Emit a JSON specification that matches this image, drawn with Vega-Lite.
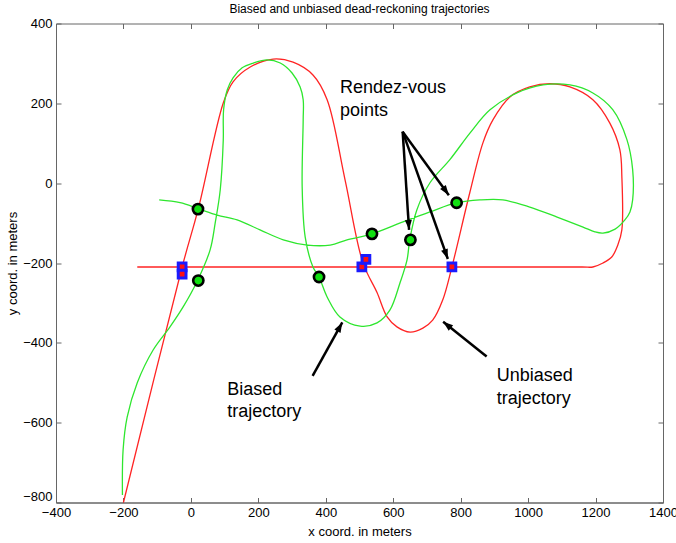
{
  "$schema": "https://vega.github.io/schema/vega-lite/v6.json",
  "width": 607,
  "height": 479,
  "autosize": "none",
  "padding": {"left": 56, "top": 23.5, "right": 13, "bottom": 40.5},
  "background": "white",
  "config": {
    "view": {"stroke": "#666666", "strokeWidth": 1},
    "font": "Liberation Sans",
    "axis": {"grid": false, "domainColor": "#666666", "tickColor": "#666666", "labelFont": "Liberation Sans", "labelColor": "black", "labelFontSize": 13, "titleFont": "Liberation Sans", "titleFontWeight": "normal", "titleFontSize": 13, "titleColor": "black", "labelFlush": false, "labelOverlap": false, "labelBound": false}
  },
  "title": {"text": "Biased and unbiased dead-reckoning trajectories", "fontSize": 12, "fontWeight": "normal", "font": "Liberation Sans", "offset": 2, "color": "black"},
  "datasets": {
    "traj": [
      {"series": "unbiased", "i": 1, "x": -200, "y": -800},
      {"series": "unbiased", "i": 2, "x": -26, "y": -210},
      {"series": "unbiased", "i": 3, "x": 22, "y": -64},
      {"series": "unbiased", "i": 4, "x": 96, "y": 201},
      {"series": "unbiased", "i": 5, "x": 125, "y": 254},
      {"series": "unbiased", "i": 6, "x": 176, "y": 291},
      {"series": "unbiased", "i": 7, "x": 244, "y": 311},
      {"series": "unbiased", "i": 8, "x": 303, "y": 303},
      {"series": "unbiased", "i": 9, "x": 362, "y": 271},
      {"series": "unbiased", "i": 10, "x": 404, "y": 209},
      {"series": "unbiased", "i": 11, "x": 457, "y": 9},
      {"series": "unbiased", "i": 12, "x": 510, "y": -199},
      {"series": "unbiased", "i": 13, "x": 552, "y": -274},
      {"series": "unbiased", "i": 14, "x": 582, "y": -335},
      {"series": "unbiased", "i": 15, "x": 611, "y": -360},
      {"series": "unbiased", "i": 16, "x": 650, "y": -373},
      {"series": "unbiased", "i": 17, "x": 688, "y": -363},
      {"series": "unbiased", "i": 18, "x": 717, "y": -343},
      {"series": "unbiased", "i": 19, "x": 747, "y": -292},
      {"series": "unbiased", "i": 20, "x": 774, "y": -210},
      {"series": "unbiased", "i": 21, "x": 827, "y": -24},
      {"series": "unbiased", "i": 22, "x": 866, "y": 101},
      {"series": "unbiased", "i": 23, "x": 896, "y": 159},
      {"series": "unbiased", "i": 24, "x": 946, "y": 216},
      {"series": "unbiased", "i": 25, "x": 1005, "y": 241},
      {"series": "unbiased", "i": 26, "x": 1065, "y": 249},
      {"series": "unbiased", "i": 27, "x": 1124, "y": 241},
      {"series": "unbiased", "i": 28, "x": 1192, "y": 209},
      {"series": "unbiased", "i": 29, "x": 1242, "y": 151},
      {"series": "unbiased", "i": 30, "x": 1272, "y": 84},
      {"series": "unbiased", "i": 31, "x": 1278, "y": 16},
      {"series": "unbiased", "i": 32, "x": 1278, "y": -117},
      {"series": "unbiased", "i": 33, "x": 1266, "y": -155},
      {"series": "unbiased", "i": 34, "x": 1248, "y": -185},
      {"series": "unbiased", "i": 35, "x": 1222, "y": -200},
      {"series": "unbiased", "i": 36, "x": 1192, "y": -210},
      {"series": "unbiased", "i": 37, "x": 1160, "y": -210},
      {"series": "unbiased", "i": 38, "x": -130, "y": -210},
      {"series": "unbiased", "i": 39, "x": -159, "y": -210},
      {"series": "biased", "i": 1, "x": -203, "y": -781},
      {"series": "biased", "i": 2, "x": -201, "y": -668},
      {"series": "biased", "i": 3, "x": -189, "y": -586},
      {"series": "biased", "i": 4, "x": -159, "y": -500},
      {"series": "biased", "i": 5, "x": -112, "y": -418},
      {"series": "biased", "i": 6, "x": -62, "y": -360},
      {"series": "biased", "i": 7, "x": -23, "y": -310},
      {"series": "biased", "i": 8, "x": 19, "y": -245},
      {"series": "biased", "i": 9, "x": 57, "y": -167},
      {"series": "biased", "i": 10, "x": 72, "y": -100},
      {"series": "biased", "i": 11, "x": 87, "y": -17},
      {"series": "biased", "i": 12, "x": 96, "y": 108},
      {"series": "biased", "i": 13, "x": 97, "y": 184},
      {"series": "biased", "i": 14, "x": 108, "y": 234},
      {"series": "biased", "i": 15, "x": 125, "y": 264},
      {"series": "biased", "i": 16, "x": 152, "y": 289},
      {"series": "biased", "i": 17, "x": 185, "y": 301},
      {"series": "biased", "i": 18, "x": 226, "y": 309},
      {"series": "biased", "i": 19, "x": 265, "y": 301},
      {"series": "biased", "i": 20, "x": 300, "y": 276},
      {"series": "biased", "i": 21, "x": 324, "y": 241},
      {"series": "biased", "i": 22, "x": 333, "y": 209},
      {"series": "biased", "i": 23, "x": 333, "y": 159},
      {"series": "biased", "i": 24, "x": 330, "y": -9},
      {"series": "biased", "i": 25, "x": 339, "y": -135},
      {"series": "biased", "i": 26, "x": 362, "y": -210},
      {"series": "biased", "i": 27, "x": 380, "y": -235},
      {"series": "biased", "i": 28, "x": 404, "y": -285},
      {"series": "biased", "i": 29, "x": 442, "y": -335},
      {"series": "biased", "i": 30, "x": 502, "y": -358},
      {"series": "biased", "i": 31, "x": 552, "y": -350},
      {"series": "biased", "i": 32, "x": 590, "y": -318},
      {"series": "biased", "i": 33, "x": 620, "y": -250},
      {"series": "biased", "i": 34, "x": 641, "y": -192},
      {"series": "biased", "i": 35, "x": 649, "y": -142},
      {"series": "biased", "i": 36, "x": 670, "y": -67},
      {"series": "biased", "i": 37, "x": 709, "y": 1},
      {"series": "biased", "i": 38, "x": 768, "y": 59},
      {"series": "biased", "i": 39, "x": 828, "y": 126},
      {"series": "biased", "i": 40, "x": 887, "y": 184},
      {"series": "biased", "i": 41, "x": 967, "y": 226},
      {"series": "biased", "i": 42, "x": 1044, "y": 246},
      {"series": "biased", "i": 43, "x": 1124, "y": 246},
      {"series": "biased", "i": 44, "x": 1192, "y": 226},
      {"series": "biased", "i": 45, "x": 1251, "y": 184},
      {"series": "biased", "i": 46, "x": 1293, "y": 109},
      {"series": "biased", "i": 47, "x": 1310, "y": 34},
      {"series": "biased", "i": 48, "x": 1310, "y": -42},
      {"series": "biased", "i": 49, "x": 1302, "y": -72},
      {"series": "biased", "i": 50, "x": 1287, "y": -92},
      {"series": "biased", "i": 51, "x": 1258, "y": -115},
      {"series": "biased", "i": 52, "x": 1222, "y": -125},
      {"series": "biased", "i": 53, "x": 1198, "y": -122},
      {"series": "biased", "i": 54, "x": 1163, "y": -110},
      {"series": "biased", "i": 55, "x": 1086, "y": -85},
      {"series": "biased", "i": 56, "x": 1005, "y": -60},
      {"series": "biased", "i": 57, "x": 925, "y": -42},
      {"series": "biased", "i": 58, "x": 857, "y": -42},
      {"series": "biased", "i": 59, "x": 789, "y": -49},
      {"series": "biased", "i": 60, "x": 709, "y": -72},
      {"series": "biased", "i": 61, "x": 629, "y": -97},
      {"series": "biased", "i": 62, "x": 537, "y": -127},
      {"series": "biased", "i": 63, "x": 463, "y": -142},
      {"series": "biased", "i": 64, "x": 413, "y": -155},
      {"series": "biased", "i": 65, "x": 345, "y": -155},
      {"series": "biased", "i": 66, "x": 274, "y": -142},
      {"series": "biased", "i": 67, "x": 205, "y": -117},
      {"series": "biased", "i": 68, "x": 137, "y": -92},
      {"series": "biased", "i": 69, "x": 78, "y": -80},
      {"series": "biased", "i": 70, "x": 22, "y": -64},
      {"series": "biased", "i": 71, "x": -32, "y": -49},
      {"series": "biased", "i": 72, "x": -94, "y": -42}
    ],
    "circles": [
      {"x": 21, "y": -65},
      {"x": 22, "y": -244},
      {"x": 380, "y": -235},
      {"x": 537, "y": -127},
      {"x": 651, "y": -142},
      {"x": 788, "y": -49}
    ],
    "squares": [
      {"x": -26, "y": -210},
      {"x": -26, "y": -228},
      {"x": 507, "y": -210},
      {"x": 519, "y": -191},
      {"x": 774, "y": -210}
    ],
    "arrows": [
      {"id": "r1", "x": 628, "y": 129, "x2": 647, "y2": -117},
      {"id": "r2", "x": 628, "y": 129, "x2": 765, "y2": -30},
      {"id": "r3", "x": 628, "y": 129, "x2": 762, "y2": -190},
      {"id": "b", "x": 361, "y": -483, "x2": 449, "y2": -349},
      {"id": "u", "x": 877, "y": -434, "x2": 748, "y2": -347}
    ],
    "labels": [
      {"x": 442, "y": 239, "text": "Rendez-vous"},
      {"x": 442, "y": 181, "text": "points"},
      {"x": 108, "y": -518, "text": "Biased"},
      {"x": 108, "y": -573, "text": "trajectory"},
      {"x": 907, "y": -483, "text": "Unbiased"},
      {"x": 907, "y": -540, "text": "trajectory"}
    ]
  },
  "layer": [
    {
      "data": {"name": "traj"},
      "mark": {"type": "line", "strokeWidth": 1.3, "interpolate": "catmull-rom"},
      "encoding": {
        "x": {"field": "x", "type": "quantitative", "scale": {"domain": [-400, 1400], "nice": false, "zero": false}, "axis": {"orient": "bottom", "values": [-400, -200, 0, 200, 400, 600, 800, 1000, 1200, 1400], "format": "d", "tickSize": -5, "labelPadding": 9, "title": "x coord. in meters", "titleY": 29, "titleBaseline": "middle"}},
        "y": {"field": "y", "type": "quantitative", "scale": {"domain": [-800, 400], "nice": false, "zero": false}, "axis": {"orient": "left", "values": [-800, -600, -400, -200, 0, 200, 400], "format": "d", "tickSize": -5, "labelPadding": 9, "labelOffset": {"condition": {"test": "datum.value == -800", "value": -6}, "value": 0}, "title": "y coord. in meters", "titleX": -44, "titleBaseline": "middle"}},
        "color": {"field": "series", "type": "nominal", "scale": {"domain": ["unbiased", "biased"], "range": ["#ff2424", "#2ee62e"]}, "legend": null},
        "order": {"field": "i", "type": "quantitative"},
        "detail": {"field": "series"}
      }
    },
    {
      "data": {"name": "circles"},
      "mark": {"type": "point", "opacity": 0},
      "encoding": {
        "x": {"field": "x", "type": "quantitative", "axis": {"orient": "top", "values": [-400, -200, 0, 200, 400, 600, 800, 1000, 1200, 1400], "tickSize": -5, "labels": false, "title": null, "domain": false}},
        "y": {"field": "y", "type": "quantitative", "axis": {"orient": "right", "values": [-800, -600, -400, -200, 0, 200, 400], "tickSize": -5, "labels": false, "title": null, "domain": false}}
      }
    },
    {
      "data": {"name": "squares"},
      "mark": {"type": "point", "shape": "square", "filled": true, "fill": "#ff1010", "stroke": "#1a1aff", "strokeWidth": 3, "size": 60, "opacity": 1},
      "encoding": {
        "x": {"field": "x", "type": "quantitative", "axis": null},
        "y": {"field": "y", "type": "quantitative", "axis": null}
      }
    },
    {
      "data": {"name": "circles"},
      "mark": {"type": "point", "shape": "circle", "filled": true, "fill": "#11e011", "stroke": "black", "strokeWidth": 2.6, "size": 105, "opacity": 1},
      "encoding": {
        "x": {"field": "x", "type": "quantitative", "axis": null},
        "y": {"field": "y", "type": "quantitative", "axis": null}
      }
    },
    {
      "data": {"name": "arrows"},
      "mark": {"type": "rule", "color": "black", "strokeWidth": 2.5},
      "encoding": {
        "x": {"field": "x", "type": "quantitative", "axis": null},
        "y": {"field": "y", "type": "quantitative", "axis": null},
        "x2": {"field": "x2"},
        "y2": {"field": "y2"}
      }
    },
    {
      "data": {"name": "arrows"},
      "transform": [{"filter": "datum.id == 'r1'"}],
      "mark": {"type": "point", "shape": "M0,0L0.7,2L-0.7,2Z", "filled": true, "color": "black", "opacity": 1, "size": 100, "angle": 176},
      "encoding": {"x": {"field": "x2", "type": "quantitative", "axis": null}, "y": {"field": "y2", "type": "quantitative", "axis": null}}
    },
    {
      "data": {"name": "arrows"},
      "transform": [{"filter": "datum.id == 'r2'"}],
      "mark": {"type": "point", "shape": "M0,0L0.7,2L-0.7,2Z", "filled": true, "color": "black", "opacity": 1, "size": 100, "angle": 144},
      "encoding": {"x": {"field": "x2", "type": "quantitative", "axis": null}, "y": {"field": "y2", "type": "quantitative", "axis": null}}
    },
    {
      "data": {"name": "arrows"},
      "transform": [{"filter": "datum.id == 'r3'"}],
      "mark": {"type": "point", "shape": "M0,0L0.7,2L-0.7,2Z", "filled": true, "color": "black", "opacity": 1, "size": 100, "angle": 160},
      "encoding": {"x": {"field": "x2", "type": "quantitative", "axis": null}, "y": {"field": "y2", "type": "quantitative", "axis": null}}
    },
    {
      "data": {"name": "arrows"},
      "transform": [{"filter": "datum.id == 'b'"}],
      "mark": {"type": "point", "shape": "M0,0L0.7,2L-0.7,2Z", "filled": true, "color": "black", "opacity": 1, "size": 100, "angle": 29},
      "encoding": {"x": {"field": "x2", "type": "quantitative", "axis": null}, "y": {"field": "y2", "type": "quantitative", "axis": null}}
    },
    {
      "data": {"name": "arrows"},
      "transform": [{"filter": "datum.id == 'u'"}],
      "mark": {"type": "point", "shape": "M0,0L0.7,2L-0.7,2Z", "filled": true, "color": "black", "opacity": 1, "size": 100, "angle": 309},
      "encoding": {"x": {"field": "x2", "type": "quantitative", "axis": null}, "y": {"field": "y2", "type": "quantitative", "axis": null}}
    },
    {
      "data": {"name": "labels"},
      "mark": {"type": "text", "align": "left", "baseline": "middle", "fontSize": 18, "font": "Liberation Sans", "color": "black"},
      "encoding": {
        "x": {"field": "x", "type": "quantitative", "axis": null},
        "y": {"field": "y", "type": "quantitative", "axis": null},
        "text": {"field": "text"}
      }
    }
  ]
}
